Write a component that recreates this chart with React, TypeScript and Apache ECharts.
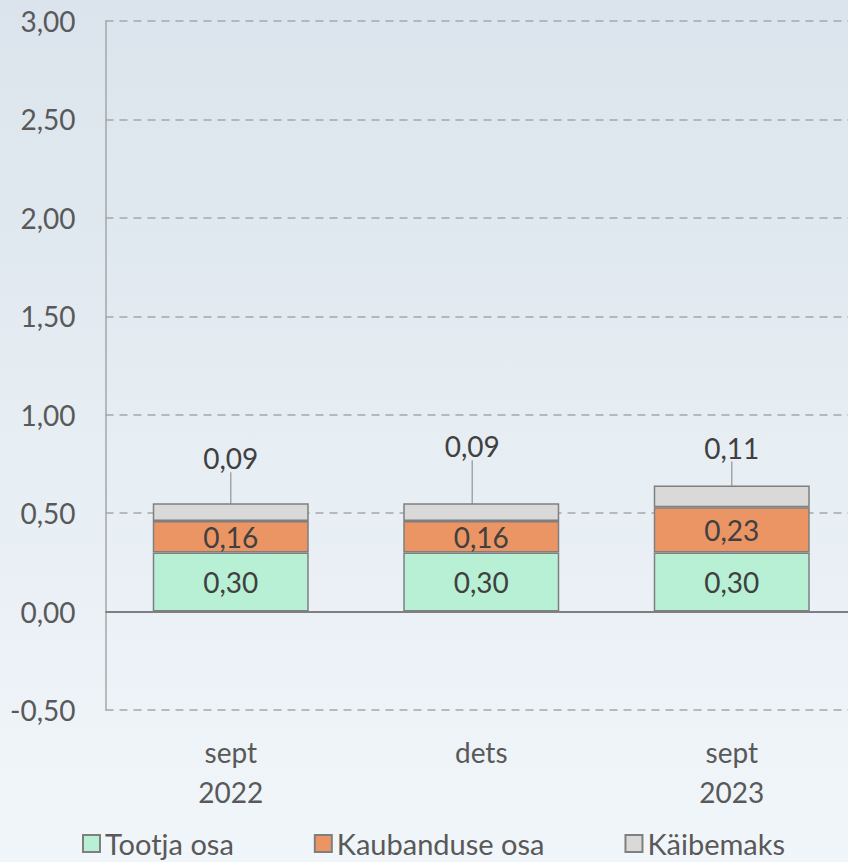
import { useEffect, useRef } from "react";
import * as echarts from "echarts";

const categories = ["sept\n2022", "dets", "sept\n2023"];
const seriesNames = ["Tootja osa", "Kaubanduse osa", "Käibemaks"];
const tootja = [0.3, 0.3, 0.3];
const kaubandus = [0.16, 0.16, 0.23];
const kaibemaks = [0.09, 0.09, 0.11];
const yMin = -0.5;
const yMax = 3;
const yStep = 0.5;

const fmt = (v: number) => v.toFixed(2).replace(".", ",");
const FONT = "Lato";
const topLabelShift = [
  { dx: 0, dy: -26 },
  { dx: -9, dy: -38 },
  { dx: 0, dy: -19 },
];

export default function App() {
  const ref = useRef<HTMLDivElement>(null);
  useEffect(() => {
    document.body.style.margin = "0";
    const chart = echarts.init(ref.current!, undefined, { renderer: "svg" });
    const border = { borderColor: "#7f7f7f", borderWidth: 1.5 };
    const inLabel = {
      show: true,
      position: "inside",
      fontFamily: FONT,
      fontSize: 28,
      color: "#404040",
      formatter: (p: any) => fmt(p.value),
    };
    chart.setOption({
      animation: false,
      backgroundColor: new echarts.graphic.LinearGradient(0, 0, 0, 1, [
        { offset: 0, color: "#dbe4ec" },
        { offset: 1, color: "#f1f6fa" },
      ]),
      textStyle: { fontFamily: FONT },
      grid: { left: 105.5, right: 0, top: 21, bottom: 152 },
      legend: {
        top: 829,
        left: 82,
        padding: 0,
        itemWidth: 17,
        itemHeight: 17,
        itemGap: 80,
        icon: "rect",
        textStyle: { fontFamily: FONT, fontSize: 29, lineHeight: 26, color: "#595959" },
        data: seriesNames,
      },
      xAxis: {
        type: "category",
        data: categories,
        axisLine: { show: false, onZero: false },
        axisTick: { show: false },
        axisLabel: {
          margin: 22,
          fontFamily: FONT,
          fontSize: 28,
          lineHeight: 40,
          color: "#595959",
        },
      },
      yAxis: {
        type: "value",
        min: yMin,
        max: yMax,
        interval: yStep,
        axisLine: { show: true, lineStyle: { color: "#a6a6a6", width: 1.5 } },
        axisTick: { show: false },
        axisLabel: {
          margin: 30,
          fontFamily: FONT,
          fontSize: 28,
          color: "#595959",
          formatter: (v: number) => fmt(v),
        },
        splitLine: {
          show: true,
          lineStyle: { color: "#a6a6a6", width: 1.5, type: [8, 6] },
        },
      },
      series: [
        {
          name: seriesNames[0],
          type: "bar",
          stack: "s",
          barWidth: 156,
          data: tootja,
          itemStyle: { color: "#b7f0d4", ...border },
          label: inLabel,
          markLine: {
            silent: true,
            symbol: "none",
            label: { show: false },
            lineStyle: { color: "#7f7f7f", width: 2, type: "solid" },
            data: [{ yAxis: 0 }],
          },
        },
        {
          name: seriesNames[1],
          type: "bar",
          stack: "s",
          data: kaubandus,
          itemStyle: { color: "#ec9564", ...border },
          label: inLabel,
        },
        {
          name: seriesNames[2],
          type: "bar",
          stack: "s",
          data: kaibemaks,
          itemStyle: { color: "#d9d9d9", ...border },
          label: { ...inLabel, position: "top", distance: 5 },
          labelLayout: (p: any) => topLabelShift[p.dataIndex],
          labelLine: {
            show: true,
            lineStyle: { color: "#a6a6a6", width: 1.5 },
          },
        },
      ],
    });
    return () => chart.dispose();
  }, []);
  return (
    <div style={{ width: 848, height: 862, overflow: "hidden", position: "relative" }}>
      <div ref={ref} style={{ width: 857, height: 862 }} />
    </div>
  );
}
